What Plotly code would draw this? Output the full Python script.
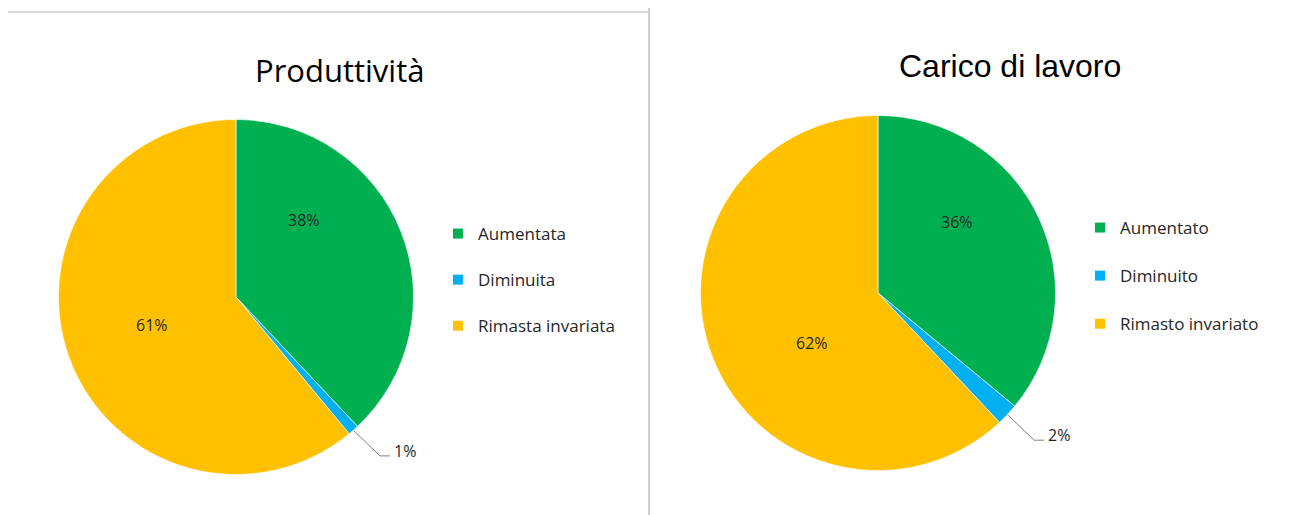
import math
import plotly.graph_objects as go

# page body has an 8px margin; figure is sized to the remaining viewport
OFF = 8
W, H = 1282, 507

# ---- data ----
left_title = "Produttività"
left_labels = ["Aumentata", "Diminuita", "Rimasta invariata"]
left_values = [38, 1, 61]

right_title = "Carico di lavoro"
right_labels = ["Aumentato", "Diminuito", "Rimasto invariato"]
right_values = [36, 2, 62]

colors = ["#00B050", "#00B0F0", "#FFC000"]


def px(x):
    return (x - OFF) / W


def py(y):
    return 1 - (y - OFF) / H


# pie geometry (window pixels): centre and radius
L_C, R_C, RAD = (236, 297), (878, 293), 177.5


def dom(c):
    return dict(x=[px(c[0] - RAD), px(c[0] + RAD)], y=[py(c[1] + RAD), py(c[1] - RAD)])


fig = go.Figure()
for vals, labs, c in [(left_values, left_labels, L_C), (right_values, right_labels, R_C)]:
    fig.add_trace(go.Pie(
        values=vals, labels=labs, domain=dom(c), sort=False, direction="clockwise",
        rotation=0, marker=dict(colors=colors, line=dict(color="white", width=0.6)),
        textinfo="none", hoverinfo="label+percent", showlegend=False,
    ))

# legends via dummy marker traces (allow the wide item spacing)
for labs, lg in [(left_labels, "legend"), (right_labels, "legend2")]:
    for lab, col in zip(labs, colors):
        fig.add_trace(go.Scatter(
            x=[None], y=[None], mode="markers", name=lab, legendgroup=lg + lab,
            marker=dict(symbol="square", size=10, color=col), legend=lg,
        ))

ann = []
font_lbl = dict(family="Open Sans", size=16, color="#262626")


def pct(vals, i):
    return f"{round(100 * vals[i] / sum(vals))}%"


# inside labels (window-pixel positions of the text centres)
for vals, pos in [(left_values, {0: (304, 220), 2: (152, 325)}),
                  (right_values, {0: (957, 222), 2: (812, 343)})]:
    for i, (x, y) in pos.items():
        ann.append(dict(x=px(x), y=py(y), xref="paper", yref="paper", text=pct(vals, i),
                        showarrow=False, font=font_lbl, xanchor="center", yanchor="middle"))

shapes = []
# small slice: leader line from slice edge at its mid-angle
for vals, c in [(left_values, L_C), (right_values, R_C)]:
    tot = sum(vals)
    mid = (vals[0] + vals[1] / 2) / tot * 2 * math.pi
    sx = c[0] + (RAD + 1) * math.sin(mid)
    sy = c[1] - (RAD + 1) * math.cos(mid)
    ex, ey = sx + 26, sy + 25
    hx = ex + 10
    shapes.append(dict(type="path", xref="paper", yref="paper",
                       path=f"M {px(sx)},{py(sy)} L {px(ex)},{py(ey)} L {px(hx)},{py(ey)}",
                       line=dict(color="#7f7f7f", width=1)))
    ann.append(dict(x=px(hx + 2), y=py(ey - 5), xref="paper", yref="paper", text=pct(vals, 1),
                    showarrow=False, font=font_lbl, xanchor="left", yanchor="middle"))

# titles
ann.append(dict(x=px(339), y=py(70), xref="paper", yref="paper", text=left_title, showarrow=False,
                font=dict(family="Open Sans", size=31, color="#000000"), xanchor="center", yanchor="middle"))
ann.append(dict(x=px(1010), y=py(66), xref="paper", yref="paper", text=right_title, showarrow=False,
                font=dict(family="Liberation Sans", size=32, color="#000000"), xanchor="center", yanchor="middle"))

# frame lines
shapes.append(dict(type="line", xref="paper", yref="paper", x0=px(6), x1=px(648), y0=py(12), y1=py(12),
                   line=dict(color="#c8c8c8", width=1.5)))
shapes.append(dict(type="line", xref="paper", yref="paper", x0=px(649), x1=px(649), y0=py(8), y1=py(515),
                   line=dict(color="#c0c0c0", width=1.5)))

leg_font = dict(family="Open Sans", size=17, color="#262626")
fig.update_layout(
    width=W, height=H, margin=dict(l=0, r=0, t=0, b=0),
    paper_bgcolor="white", plot_bgcolor="white",
    xaxis=dict(visible=False), yaxis=dict(visible=False),
    annotations=ann, shapes=shapes,
    legend=dict(x=px(438), y=py(216), xanchor="left", yanchor="top", font=leg_font,
                bgcolor="rgba(0,0,0,0)", tracegroupgap=21, itemclick=False),
    legend2=dict(x=px(1080), y=py(210), xanchor="left", yanchor="top", font=leg_font,
                 bgcolor="rgba(0,0,0,0)", tracegroupgap=23, itemclick=False),
)

fig.write_html("out.html")
